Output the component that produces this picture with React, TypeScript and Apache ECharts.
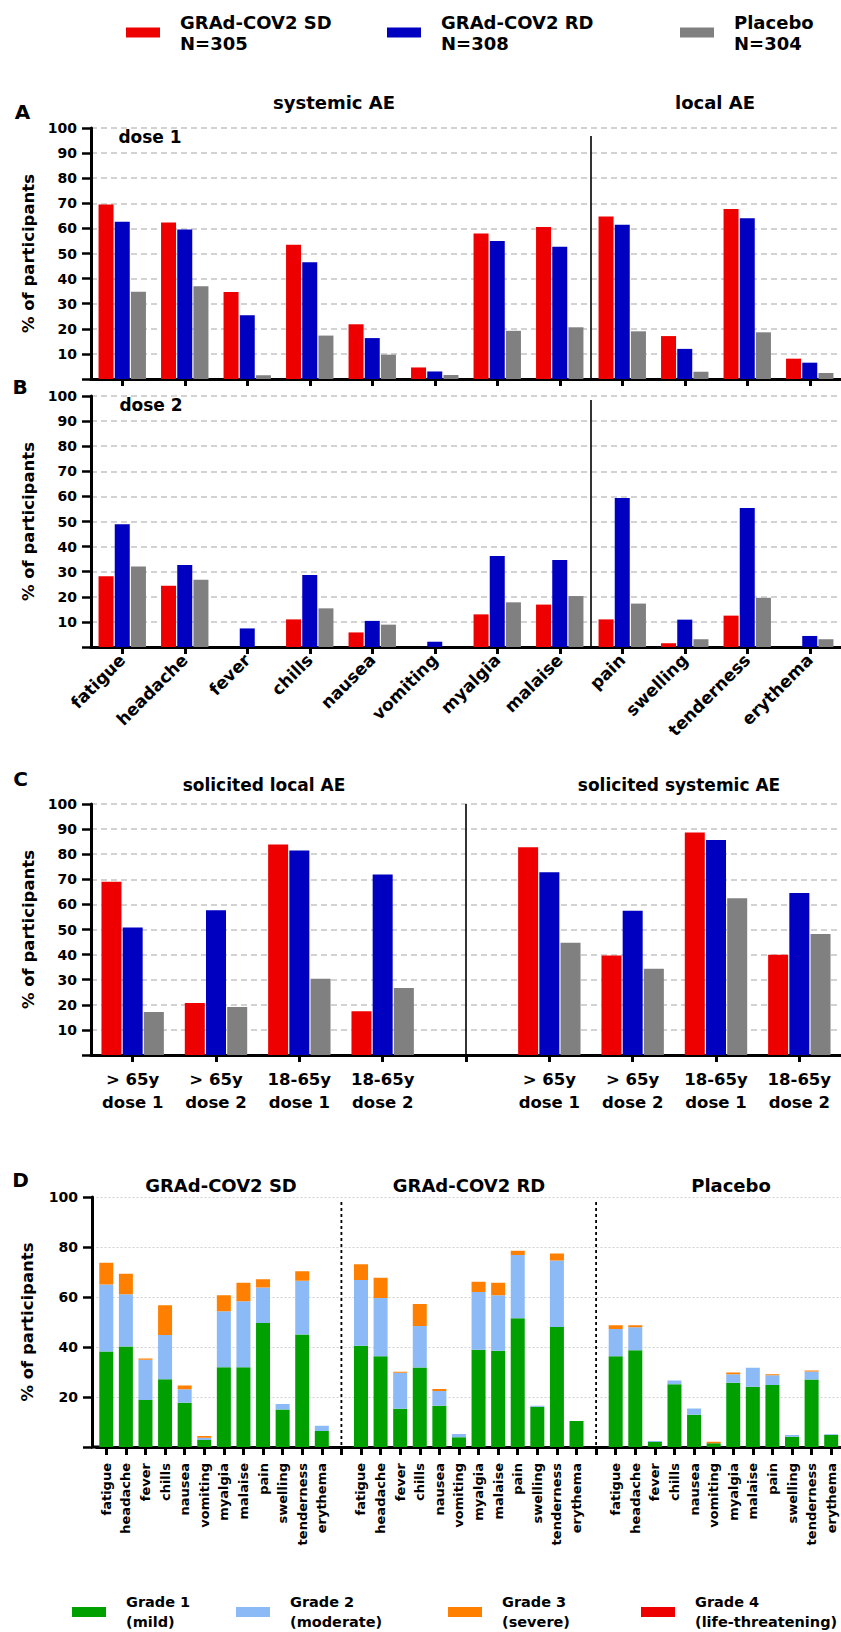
import React, { useEffect, useRef } from 'react';
import * as echarts from 'echarts';

const FONT = '"DejaVu Sans", "Liberation Sans", sans-serif';

// ---------- categories / labels ----------
const symptoms = ['fatigue', 'headache', 'fever', 'chills', 'nausea', 'vomiting', 'myalgia', 'malaise', 'pain', 'swelling', 'tenderness', 'erythema'];
const cCats = ['> 65y\ndose 1', '> 65y\ndose 2', '18-65y\ndose 1', '18-65y\ndose 2'];
const groupNames = ['GRAd-COV2 SD', 'GRAd-COV2 RD', 'Placebo'];
const groupN = ['N=305', 'N=308', 'N=304'];
const gradeNames = ['Grade 1', 'Grade 2', 'Grade 3', 'Grade 4'];
const gradeDesc = ['(mild)', '(moderate)', '(severe)', '(life-threatening)'];

// ---------- panel A: dose 1 ----------
const dose1SD = [69.5, 62.4, 34.7, 53.5, 21.8, 4.6, 58.0, 60.6, 64.7, 17.1, 67.7, 8.1];
const dose1RD = [62.6, 59.6, 25.4, 46.5, 16.3, 3.0, 55.0, 52.7, 61.5, 12.0, 64.0, 6.5];
const dose1PL = [34.8, 37.0, 1.5, 17.3, 9.7, 1.6, 19.2, 20.6, 19.0, 2.9, 18.6, 2.4];

// ---------- panel B: dose 2 ----------
const dose2SD = [28.2, 24.4, 0, 11.0, 5.8, 0, 13.0, 16.9, 11.0, 1.5, 12.5, 0];
const dose2RD = [48.9, 32.7, 7.4, 28.7, 10.4, 2.1, 36.3, 34.7, 59.4, 10.9, 55.4, 4.4];
const dose2PL = [32.1, 26.8, 0, 15.4, 8.9, 0, 17.8, 20.3, 17.3, 3.1, 19.6, 3.1];

// ---------- panel C: solicited AE by age ----------
const localSD = [69.0, 20.7, 83.9, 17.4];
const localRD = [50.8, 57.7, 81.5, 71.9];
const localPL = [17.1, 19.1, 30.4, 26.7];
const systSD = [82.8, 39.6, 88.6, 39.9];
const systRD = [72.8, 57.5, 85.7, 64.5];
const systPL = [44.7, 34.4, 62.5, 48.2];

// ---------- panel D: by grade (increments) ----------
const sdG1 = [38.2, 40.2, 18.8, 27.1, 17.7, 2.8, 31.9, 31.9, 49.6, 15.0, 45.0, 6.4];
const sdG2 = [26.8, 20.9, 16.1, 17.7, 5.4, 0.9, 22.4, 26.4, 14.2, 2.2, 21.5, 2.1];
const sdG3 = [8.7, 8.2, 0.5, 11.9, 1.5, 0.7, 6.4, 7.4, 3.3, 0, 3.8, 0];
const sdG4 = [0, 0, 0, 0, 0, 0, 0, 0, 0, 0, 0, 0];
const rdG1 = [40.5, 36.3, 15.3, 31.8, 16.5, 3.9, 38.9, 38.5, 51.5, 16.1, 48.0, 10.4];
const rdG2 = [26.3, 23.3, 14.4, 16.6, 5.9, 1.3, 23.1, 22.2, 25.3, 0.4, 26.6, 0];
const rdG3 = [6.3, 8.1, 0.4, 8.8, 0.8, 0, 4.1, 5.0, 1.7, 0, 2.8, 0];
const rdG4 = [0, 0, 0, 0, 0, 0, 0, 0, 0, 0, 0, 0];
const plG1 = [36.3, 38.7, 2.0, 25.1, 12.9, 1.5, 25.7, 24.1, 24.8, 4.1, 27.0, 4.8];
const plG2 = [10.9, 9.2, 0.4, 1.5, 2.5, 0, 3.4, 7.6, 3.9, 0.7, 3.2, 0.3];
const plG3 = [1.5, 0.8, 0, 0, 0, 0.6, 0.7, 0, 0.4, 0, 0.4, 0];
const plG4 = [0, 0, 0, 0, 0, 0, 0, 0, 0, 0, 0, 0];

const RED = '#ee0000';
const BLUE = '#0000c0';
const GRAY = '#808080';
const groupColors = [RED, BLUE, GRAY];
const gradeColors = ['#00a000', '#8cbaf6', '#ff8000', '#ee0000'];

export default function App() {
  const ref = useRef<HTMLDivElement>(null);

  useEffect(() => {
    const chart = echarts.init(ref.current as HTMLDivElement, null, { renderer: 'svg' });

    const cAxis = [...cCats, '', ...cCats];
    const dAxis = [...symptoms, '', ...symptoms, '', ...symptoms];
    const join = (a: number[], b: number[], c: number[]) => [...a, '-', ...b, '-', ...c];
    const joinC = (a: number[], b: number[]) => [...a, '-', ...b];

    const yAxisBase = (gi: number, interval: number, dashed: boolean, offset = 0) => ({
      gridIndex: gi,
      type: 'value',
      min: 0,
      max: 100,
      interval,
      offset,
      name: '% of participants',
      nameLocation: 'middle',
      nameGap: 52 + offset,
      nameTextStyle: { fontSize: 16.5, fontWeight: 'bold', fontFamily: FONT, color: '#000' },
      axisLine: { show: true, lineStyle: { color: '#000', width: 3 } },
      axisTick: { show: true, length: 9, lineStyle: { color: '#000', width: 2.5 } },
      axisLabel: {
        margin: 14,
        fontSize: 14,
        fontWeight: 'bold',
        fontFamily: FONT,
        color: '#000',
        formatter: (v: number) => (v === 0 ? '' : String(v)),
      },
      splitLine: {
        show: true,
        lineStyle: dashed
          ? { color: '#c4c4c4', type: [6, 4], width: 1.5 }
          : { color: '#d2d2d2', type: [2, 2], width: 1.2 },
      },
    });

    const xAxisBase = (gi: number, data: string[]) => ({
      gridIndex: gi,
      type: 'category',
      data,
      axisLine: { show: true, lineStyle: { color: '#000', width: 3 } },
      axisTick: { show: true, alignWithLabel: true, interval: 0, length: 7, lineStyle: { color: '#000', width: 3 } },
      splitLine: { show: false },
    });

    const labelStyle = { fontWeight: 'bold', fontFamily: FONT, color: '#000', interval: 0 };

    const barSeries = (name: string, gi: number, data: any[], color: string, width: number, gap: string) => ({
      name,
      type: 'bar',
      xAxisIndex: gi,
      yAxisIndex: gi,
      data,
      barWidth: width,
      barGap: gap,
      itemStyle: { color },
    });

    const series: any[] = [];
    const panelA = [dose1SD, dose1RD, dose1PL];
    const panelB = [dose2SD, dose2RD, dose2PL];
    const panelCl = [localSD, localRD, localPL];
    const panelCs = [systSD, systRD, systPL];
    groupNames.forEach((n, i) => {
      series.push(barSeries(n, 0, panelA[i], groupColors[i], 15, '8%'));
    });
    groupNames.forEach((n, i) => {
      series.push(barSeries(n, 1, panelB[i], groupColors[i], 15, '8%'));
    });
    groupNames.forEach((n, i) => {
      series.push(barSeries(n, 2, joinC(panelCl[i], panelCs[i]), groupColors[i], 20, '6%'));
    });
    const dG = [
      join(sdG1, rdG1, plG1),
      join(sdG2, rdG2, plG2),
      join(sdG3, rdG3, plG3),
      join(sdG4, rdG4, plG4),
    ];
    gradeNames.forEach((n, i) => {
      series.push({
        name: n,
        type: 'bar',
        xAxisIndex: 3,
        yAxisIndex: 3,
        stack: 'grade',
        data: dG[i],
        barWidth: 14,
        itemStyle: { color: gradeColors[i] },
      });
    });

    const legends: any[] = [];
    const topLeft = [126, 387, 680];
    groupNames.forEach((n, i) => {
      legends.push({
        data: [n],
        left: topLeft[i],
        top: 11.5,
        padding: 0,
        icon: 'rect',
        itemWidth: 34,
        itemHeight: 10,
        selectedMode: false,
        formatter: (name: string) => name + '\n' + groupN[i],
        textStyle: { fontSize: 18, lineHeight: 21, fontWeight: 'bold', fontFamily: FONT, color: '#000', padding: [0, 0, 0, 15] },
      });
    });
    const botLeft = [72, 236, 448, 641];
    gradeNames.forEach((n, i) => {
      legends.push({
        data: [n],
        left: botLeft[i],
        top: 1592,
        padding: 0,
        icon: 'rect',
        itemWidth: 34,
        itemHeight: 10,
        selectedMode: false,
        formatter: (name: string) => name + '\n' + gradeDesc[i],
        textStyle: { fontSize: 14.5, lineHeight: 20, fontWeight: 'bold', fontFamily: FONT, color: '#000', padding: [0, 0, 0, 15] },
      });
    });

    const option: any = {
      animation: false,
      backgroundColor: '#fff',
      textStyle: { fontFamily: FONT },
      grid: [
        { left: 91, top: 128, width: 757, height: 251 },
        { left: 91, top: 396, width: 757, height: 251 },
        { left: 91, top: 804, width: 757, height: 251 },
        { left: 96.5, top: 1197, width: 745, height: 250 },
      ],
      legend: legends,
      xAxis: [
        { ...xAxisBase(0, symptoms), axisLabel: { show: false } },
        { ...xAxisBase(1, symptoms), axisLabel: { ...labelStyle, rotate: 45, fontSize: 17, margin: 10 } },
        { ...xAxisBase(2, cAxis), axisLabel: { ...labelStyle, fontSize: 16.5, lineHeight: 23, margin: 13 } },
        {
          ...xAxisBase(3, dAxis),
          axisTick: { show: true, alignWithLabel: true, interval: 0, length: 8, lineStyle: { color: '#000', width: 3 } },
          axisLabel: { ...labelStyle, rotate: 90, fontSize: 13, margin: 16 },
        },
      ],
      yAxis: [
        yAxisBase(0, 10, true),
        yAxisBase(1, 10, true),
        yAxisBase(2, 10, true),
        yAxisBase(3, 20, false, 4.5),
      ],
      series,
    };

    chart.setOption(option);

    const px = (gi: number, x: number, y: number) =>
      chart.convertToPixel({ gridIndex: gi } as any, [x, y]) as number[];

    const texts: [string, number, number, number][] = [
      ['A', 22.5, 112, 20],
      ['systemic AE', 334, 102, 18],
      ['local AE', 715, 102, 18],
      ['dose 1', 150, 137, 17],
      ['B', 20, 387, 20],
      ['dose 2', 151, 405, 17],
      ['C', 20.5, 779, 20],
      ['solicited local AE', 264, 785, 17],
      ['solicited systemic AE', 679, 785, 17],
      ['D', 20.5, 1180, 20],
      ['GRAd-COV2 SD', 221, 1185, 18],
      ['GRAd-COV2 RD', 469, 1185, 18],
      ['Placebo', 731, 1185, 18],
    ];

    const graphic: any[] = texts.map(([t, x, y, s]) => ({
      type: 'text',
      x,
      y,
      style: {
        text: t,
        fontSize: s,
        fontWeight: 'bold',
        fontFamily: FONT,
        fill: '#000',
        align: 'center',
        verticalAlign: 'middle',
      },
    }));

    // solid dividers between systemic and local (A, B)
    const divAB: [number, number][] = [[0, 96.8], [1, 98.4]];
    divAB.forEach(([gi, top]) => {
      const xm = (px(gi, 7, 0)[0] + px(gi, 8, 0)[0]) / 2;
      graphic.push({
        type: 'line',
        shape: { x1: xm, y1: px(gi, 7, top)[1], x2: xm, y2: px(gi, 7, 0)[1] },
        style: { stroke: '#000', lineWidth: 1.6 },
      });
    });
    // C divider
    {
      const p1 = px(2, 4, 100);
      const p0 = px(2, 4, 0);
      graphic.push({
        type: 'line',
        shape: { x1: p1[0], y1: p1[1], x2: p0[0], y2: p0[1] },
        style: { stroke: '#000', lineWidth: 1.6 },
      });
    }
    // D dashed dividers
    [12, 25].forEach((ci) => {
      const p1 = px(3, ci, 98);
      const p0 = px(3, ci, 0);
      graphic.push({
        type: 'line',
        shape: { x1: p1[0], y1: p1[1], x2: p0[0], y2: p0[1] },
        style: { stroke: '#000', lineWidth: 1.8, lineDash: [3, 3] },
      });
    });
    // extend D x-axis line to the offset y-axis
    {
      const p0 = px(3, 0, 0);
      graphic.push({
        type: 'line',
        shape: { x1: 91, y1: p0[1], x2: p0[0], y2: p0[1] },
        style: { stroke: '#000', lineWidth: 3 },
      });
    }

    chart.setOption({ graphic });

    return () => chart.dispose();
  }, []);

  return <div ref={ref} style={{ position: 'absolute', left: 0, top: 0, width: 841, height: 1632 }} />;
}
